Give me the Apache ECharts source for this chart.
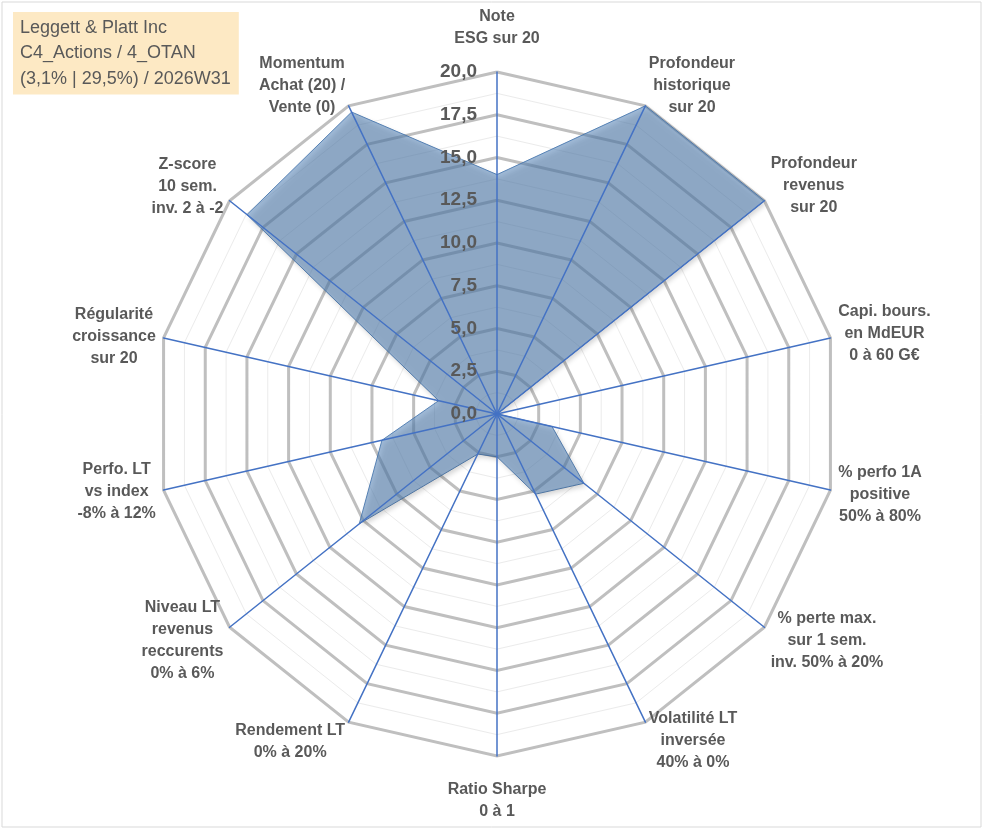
<!DOCTYPE html>
<html lang="fr">
<head>
<meta charset="UTF-8">
<title>Leggett &amp; Platt Inc - radar</title>
<style>
  html, body { margin: 0; padding: 0; background: #fff; }
  #card { width: 991px; height: 830px; }
</style>
</head>
<body>
<div id="card"></div>
<script src="https://cdn.jsdelivr.net/npm/echarts@6/dist/echarts.min.js"></script>
<script>
var titleLines = ['Leggett & Platt Inc', 'C4_Actions / 4_OTAN', '(3,1% | 29,5%) / 2026W31'];

// axes, clockwise from the top (spreadsheet order)
var categories = [
    'Note\nESG sur 20',
    'Profondeur\nhistorique\nsur 20',
    'Profondeur\nrevenus\nsur 20',
    'Capi. bours.\nen MdEUR\n0 à 60 G€',
    '% perfo 1A\npositive\n50% à 80%',
    '% perte max.\nsur 1 sem.\ninv. 50% à 20%',
    'Volatilité LT\ninversée\n40% à 0%',
    'Ratio Sharpe\n0 à 1',
    'Rendement LT\n0% à 20%',
    'Niveau LT\nrevenus\nreccurents\n0% à 6%',
    'Perfo. LT\nvs index\n-8% à 12%',
    'Régularité\ncroissance\nsur 20',
    'Z-score\n10 sem.\ninv. 2 à -2',
    'Momentum\nAchat (20) /\nVente (0)'
];
var scores = [14.0, 20, 20, 0, 3.3, 6.5, 5.2, 2.5, 2.6, 10.3, 6.9, 3.5, 18.7, 19.6];
var tickLabels = ['0,0', '2,5', '5,0', '7,5', '10,0', '12,5', '15,0', '17,5', '20,0'];
var scoreMax = 20;

// layout only: spacer height under (+) or over (-) each axis name
var nameNudge = [14, 26, 20, 6, -6, -16, -22, -15, -24, -16, 0, 0, 18, 26];

// echarts lays radar axes out counter-clockwise
function toCcw(a) {
    return [a[0]].concat(a.slice(1).reverse());
}

var grey = '#595959';
var font = 'Liberation Sans';

var rich = {
    c: { align: 'center', color: grey, fontSize: 16, fontWeight: 'bold', fontFamily: font, lineHeight: 22 }
};
nameNudge.forEach(function (n) {
    var h = Math.abs(n);
    if (h) rich['s' + h] = { height: h, lineHeight: h, fontSize: 1 };
});

function nameFormatter(name) {
    var i = categories.indexOf(name);
    var body = name.split('\n').map(function (l) { return '{c|' + l + '}'; }).join('\n');
    var n = nameNudge[i];
    if (n > 0) return body + '\n{s' + n + '| }';
    if (n < 0) return '{s' + (-n) + '| }\n' + body;
    return body;
}

var plainInd = toCcw(categories).map(function (c) {
    return { name: c, min: 0, max: scoreMax };
});
var topInd = plainInd.map(function (d, i) {
    var o = { name: d.name, min: 0, max: scoreMax };
    if (i === 0) {
        o.axisLabel = {
            show: true,
            color: grey,
            fontSize: 19,
            fontWeight: 'bold',
            fontFamily: font,
            margin: 20,
            formatter: function (v) { return tickLabels[Math.round(v / 2.5)]; }
        };
    }
    return o;
});

var center = [497, 414];
var radius = 342;

var option = {
    backgroundColor: '#fff',
    animation: false,
    title: {
        text: titleLines.join('\n'),
        left: 13,
        top: 12,
        padding: [3, 8, 3, 7],
        backgroundColor: '#FDE9C4',
        textStyle: { color: grey, fontSize: 18, fontWeight: 'normal', fontFamily: font, lineHeight: 25.5 }
    },
    graphic: [{
        type: 'rect',
        silent: true,
        z: -1,
        shape: { x: 2, y: 2, width: 979, height: 825 },
        style: { fill: 'none', stroke: '#D9D9D9', lineWidth: 1 }
    }],
    radar: [{
        // minor rings
        z: 1,
        indicator: plainInd,
        center: center,
        radius: radius,
        startAngle: 90,
        shape: 'polygon',
        splitNumber: 16,
        axisName: { show: false },
        axisLine: { show: false },
        axisTick: { show: false },
        axisLabel: { show: false },
        splitArea: { show: false },
        splitLine: { lineStyle: { color: '#EBEBEB', width: 1 } }
    }, {
        // major rings and axis names
        z: 1,
        indicator: plainInd,
        center: center,
        radius: radius,
        startAngle: 90,
        shape: 'polygon',
        splitNumber: 8,
        nameGap: 8,
        axisName: { formatter: nameFormatter, rich: rich, color: grey },
        axisLine: { show: false },
        axisTick: { show: false },
        axisLabel: { show: false },
        splitArea: { show: false },
        splitLine: { lineStyle: { color: '#BFBFBF', width: 3 } }
    }, {
        // spokes and tick labels over the filled area
        z: 5,
        indicator: topInd,
        center: center,
        radius: radius,
        startAngle: 90,
        shape: 'polygon',
        splitNumber: 8,
        axisName: { show: false },
        axisLine: { lineStyle: { color: '#4472C4', width: 1.5 } },
        axisTick: { show: false },
        axisLabel: { show: false },
        splitArea: { show: false },
        splitLine: { show: false }
    }],
    series: [{
        type: 'radar',
        radarIndex: 1,
        z: 3,
        symbol: 'none',
        lineStyle: { width: 1, color: 'rgba(60,110,170,0.85)' },
        areaStyle: {
            color: 'rgba(86,132,184,0.8)',
            shadowBlur: 5,
            shadowColor: 'rgba(0,0,0,0.3)',
            shadowOffsetX: 2,
            shadowOffsetY: 3
        },
        data: [{ name: 'Score', value: toCcw(scores) }]
    }]
};

var myChart = echarts.init(document.getElementById('card'));
myChart.setOption(option);
</script>
</body>
</html>
